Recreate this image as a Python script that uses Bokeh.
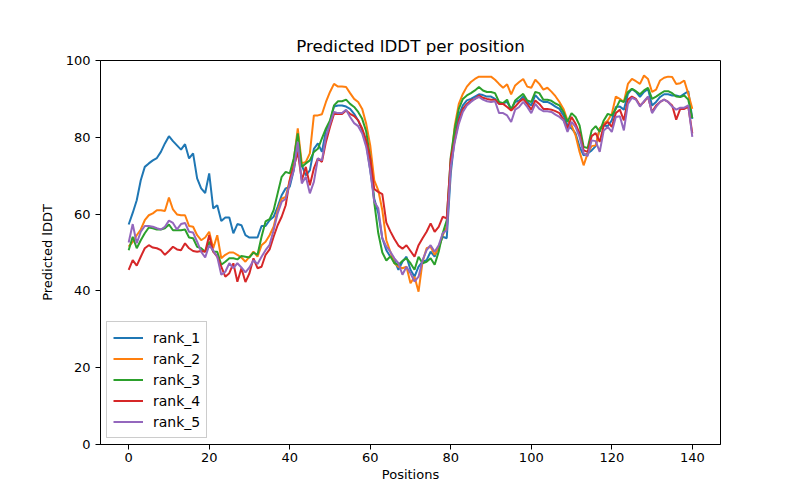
from bokeh.plotting import figure
from bokeh.models import Range1d, Legend, LegendItem, FixedTicker
from bokeh.embed import file_html
from bokeh.resources import INLINE

positions = list(range(141))

rank_1 = [57.3, 60.3, 63.6, 68.8, 72.3, 73.2, 74.0, 74.6, 76.2, 78.4,
          80.3, 79.0, 77.9, 76.8, 78.2, 74.5, 75.8, 69.3, 66.7, 65.5,
          70.6, 61.5, 62.3, 58.2, 59.1, 59.1, 55.0, 57.4, 57.1, 54.5,
          53.9, 53.9, 53.9, 56.9, 56.9, 58.4, 59.3, 61.9, 64.9, 66.7,
          67.1, 71.4, 77.9, 72.7, 70.1, 71.4, 77.0, 78.4, 76.2, 81.8,
          84.0, 88.0, 88.3, 88.3, 88.0, 87.4, 86.1, 84.4, 81.8, 78.4,
          71.4, 64.0, 60.2, 53.7, 50.6, 48.9, 48.0, 45.5, 47.6, 48.9,
          45.5, 43.7, 46.3, 47.6, 48.0, 50.2, 48.9, 51.5, 54.1, 53.7,
          70.6, 80.1, 85.7, 88.3, 89.6, 90.0, 90.6, 91.2, 91.0, 90.6,
          90.6, 90.0, 88.7, 88.9, 89.2, 87.4, 89.2, 89.6, 90.6, 89.2,
          88.3, 91.0, 89.8, 89.2, 89.2, 88.7, 88.0, 87.4, 85.7, 83.1,
          82.3, 81.0, 77.5, 75.3, 75.8, 76.6, 77.7, 82.3, 83.1, 82.9,
          84.4, 87.9, 88.0, 87.2, 91.3, 92.6, 91.8, 90.5, 91.8, 92.6,
          88.3, 89.2, 90.5, 91.2, 91.2, 90.9, 90.9, 90.6, 91.3, 92.0,
          84.8]

rank_2 = [51.5, 52.8, 54.5, 56.0, 58.4, 59.7, 60.2, 61.0, 61.0, 60.8,
          64.3, 61.2, 59.9, 59.7, 59.7, 56.9, 56.7, 54.5, 53.2, 53.9,
          55.4, 51.1, 54.5, 48.5, 49.4, 50.0, 50.0, 49.4, 48.7, 47.6,
          48.9, 50.2, 48.9, 51.9, 52.8, 54.5, 56.7, 61.0, 64.0, 64.5,
          68.8, 74.0, 82.3, 73.2, 73.6, 75.8, 85.7, 85.7, 86.0, 89.2,
          91.8, 93.9, 93.2, 93.2, 93.1, 91.5, 90.0, 89.2, 87.4, 83.5,
          77.9, 68.8, 66.2, 61.0, 53.2, 50.2, 47.2, 46.3, 45.9, 46.3,
          42.0, 43.7, 39.8, 47.6, 51.1, 51.5, 49.4, 51.1, 54.5, 56.7,
          73.2, 83.1, 88.7, 91.3, 93.2, 94.4, 95.2, 95.8, 95.8, 95.8,
          95.8, 95.0, 93.9, 92.9, 93.8, 91.2, 93.5, 94.4, 95.2, 93.2,
          92.9, 95.0, 93.9, 92.4, 92.9, 91.9, 90.7, 89.2, 87.4, 84.4,
          83.1, 80.5, 76.2, 72.7, 75.8, 77.7, 77.9, 82.3, 83.5, 84.4,
          86.1, 90.6, 90.0, 89.2, 93.9, 95.2, 94.6, 93.9, 96.1, 95.2,
          91.8, 92.4, 94.8, 95.5, 95.8, 95.7, 93.9, 94.1, 94.8, 91.3,
          87.4]

rank_3 = [50.6, 54.1, 51.1, 53.2, 55.0, 56.5, 56.3, 56.0, 56.0, 56.3,
          57.3, 55.8, 55.8, 55.8, 56.0, 53.9, 53.7, 51.5, 51.1, 50.2,
          52.8, 50.2, 50.2, 46.8, 47.6, 48.5, 48.5, 48.2, 49.1, 48.9,
          48.7, 50.0, 49.4, 54.1, 58.1, 58.7, 61.0, 65.4, 69.7, 71.0,
          70.6, 74.5, 81.0, 72.3, 73.2, 74.0, 76.2, 77.0, 79.7, 82.3,
          84.4, 88.3, 89.4, 89.4, 89.8, 88.7, 87.9, 86.6, 84.8, 81.5,
          74.5, 63.0, 55.0, 50.0, 47.9, 49.0, 47.2, 46.8, 47.8, 48.5,
          47.2, 45.5, 48.9, 47.2, 47.6, 48.5, 46.8, 50.2, 55.0, 58.4,
          74.9, 82.3, 87.4, 90.0, 90.9, 91.5, 92.2, 93.1, 92.2, 91.8,
          91.8, 91.5, 89.2, 88.9, 89.8, 87.0, 89.6, 90.5, 91.3, 89.6,
          89.2, 91.8, 91.5, 89.8, 89.8, 89.5, 88.8, 88.3, 86.6, 84.0,
          86.3, 85.3, 83.1, 77.5, 77.2, 81.8, 82.9, 81.4, 84.4, 86.1,
          85.7, 87.4, 89.6, 89.2, 91.8, 92.6, 92.0, 91.2, 92.2, 92.9,
          90.0, 90.6, 91.3, 92.0, 92.0, 91.5, 90.6, 90.5, 90.9, 89.8,
          85.0]

rank_4 = [45.5, 48.0, 46.6, 48.9, 51.1, 51.9, 51.3, 51.1, 50.6, 49.4,
          50.4, 51.5, 50.8, 50.6, 52.4, 51.1, 50.4, 50.2, 50.4, 50.2,
          54.5, 50.2, 48.9, 46.3, 43.7, 44.6, 47.2, 42.4, 45.9, 42.3,
          44.6, 48.5, 45.9, 46.3, 49.4, 50.8, 54.1, 57.1, 59.3, 62.3,
          68.8, 72.3, 76.2, 68.8, 72.3, 67.5, 71.9, 74.5, 73.6, 78.8,
          82.7, 86.1, 86.1, 86.1, 87.0, 86.1, 85.5, 84.4, 82.3, 79.2,
          74.5, 66.5, 65.8, 65.2, 57.8, 55.5, 53.5, 51.8, 51.0, 51.9,
          50.4, 48.9, 51.9, 53.7, 55.4, 57.6, 55.4, 56.7, 59.3, 58.9,
          74.5, 79.2, 84.4, 87.4, 88.7, 89.6, 90.0, 90.9, 90.3, 90.0,
          89.8, 89.8, 88.7, 88.7, 87.9, 87.0, 88.0, 89.2, 90.0, 88.7,
          87.2, 89.6, 88.7, 87.4, 87.4, 87.2, 86.8, 86.3, 84.6, 82.3,
          85.3, 83.5, 81.0, 76.6, 76.2, 80.3, 81.1, 78.8, 83.1, 84.0,
          82.7, 86.3, 87.2, 84.4, 89.8, 90.6, 90.0, 88.3, 89.2, 90.5,
          86.6, 88.3, 89.2, 89.8, 89.2, 88.3, 84.6, 87.4, 87.4, 87.9,
          81.0]

rank_5 = [52.6, 57.4, 52.4, 55.4, 56.9, 56.9, 56.7, 56.3, 56.0, 56.7,
          58.3, 57.7, 56.0, 57.4, 57.7, 55.4, 55.2, 52.8, 50.2, 48.7,
          51.9, 50.5, 48.9, 44.2, 45.0, 47.2, 45.9, 47.2, 46.1, 44.8,
          46.1, 48.0, 47.0, 48.9, 50.6, 52.0, 55.8, 60.2, 63.2, 64.0,
          68.0, 71.4, 78.8, 68.0, 69.7, 65.4, 68.4, 74.5, 74.0, 80.1,
          83.5, 86.6, 86.3, 86.3, 87.2, 85.3, 83.7, 82.9, 81.0, 77.5,
          71.4, 63.2, 61.5, 53.7, 51.5, 50.2, 48.5, 47.2, 44.2, 46.3,
          44.6, 42.4, 43.7, 48.0, 50.6, 51.9, 50.2, 51.9, 55.0, 55.8,
          72.3, 78.8, 83.5, 86.6, 88.3, 89.2, 90.0, 90.5, 89.8, 89.4,
          89.2, 89.4, 86.3, 86.3, 85.7, 84.0, 87.2, 87.9, 89.2, 87.9,
          86.3, 88.7, 87.4, 86.8, 86.8, 86.6, 85.9, 85.3, 84.4, 81.4,
          84.0, 82.7, 80.1, 75.8, 75.1, 79.2, 79.0, 76.2, 81.8, 82.7,
          81.4, 85.3, 85.5, 81.8, 88.7, 90.3, 89.8, 88.0, 89.4, 90.6,
          86.3, 87.9, 89.2, 89.8, 89.2, 88.0, 87.2, 87.7, 87.7, 88.3,
          80.1]

series_names = ["rank_1", "rank_2", "rank_3", "rank_4", "rank_5"]
series_values = [rank_1, rank_2, rank_3, rank_4, rank_5]
colors = ["#1f77b4", "#ff7f0e", "#2ca02c", "#d62728", "#9467bd"]
x_ticks = [0, 20, 40, 60, 80, 100, 120, 140]
y_ticks = [0, 20, 40, 60, 80, 100]

FONT = "DejaVu Sans"

p = figure(width=784, height=484, output_backend="svg", toolbar_location=None,
           x_range=Range1d(-7, 147), y_range=Range1d(0, 100),
           title="Predicted lDDT per position",
           min_border_left=100, min_border_right=64,
           min_border_top=60, min_border_bottom=39)

p.title.align = "center"
p.title.text_font = FONT
p.title.text_font_size = "16.7px"
p.title.text_font_style = "normal"
p.title.text_color = "black"

p.xgrid.visible = False
p.ygrid.visible = False
p.outline_line_color = "black"
p.outline_line_width = 1
p.outline_line_alpha = 1.0
p.background_fill_color = "white"
p.border_fill_color = "white"

for ax in (p.xaxis[0], p.yaxis[0]):
    ax.axis_line_color = "black"
    ax.major_tick_line_color = "black"
    ax.major_tick_in = 0
    ax.major_tick_out = 5
    ax.minor_tick_line_color = None
    ax.major_label_text_font = FONT
    ax.major_label_text_font_size = "13px"
    ax.major_label_text_color = "black"
    ax.axis_label_text_font = FONT
    ax.axis_label_text_font_size = "13px"
    ax.axis_label_text_font_style = "normal"
    ax.axis_label_text_color = "black"

p.xaxis.ticker = FixedTicker(ticks=x_ticks)
p.yaxis.ticker = FixedTicker(ticks=y_ticks)
p.xaxis.axis_label = "Positions"
p.yaxis.axis_label = "Predicted lDDT"
p.xaxis.major_label_standoff = 3
p.xaxis.axis_label_standoff = 2
p.yaxis.axis_label_standoff = 8

items = []
for name, vals, c in zip(series_names, series_values, colors):
    r = p.line(positions, vals, line_color=c, line_width=2)
    items.append(LegendItem(label=name, renderers=[r]))

legend = Legend(items=items, location="bottom_left")
legend.label_text_font = FONT
legend.label_text_font_size = "14px"
legend.label_text_color = "black"
legend.border_line_color = "#cccccc"
legend.border_line_alpha = 1.0
legend.background_fill_alpha = 0.8
legend.glyph_width = 30
legend.glyph_height = 19
legend.label_height = 19
legend.spacing = 2
legend.padding = 6
legend.margin = 6
legend.label_standoff = 10
p.add_layout(legend, "center")

open("out.html", "w").write(file_html(p, INLINE))
